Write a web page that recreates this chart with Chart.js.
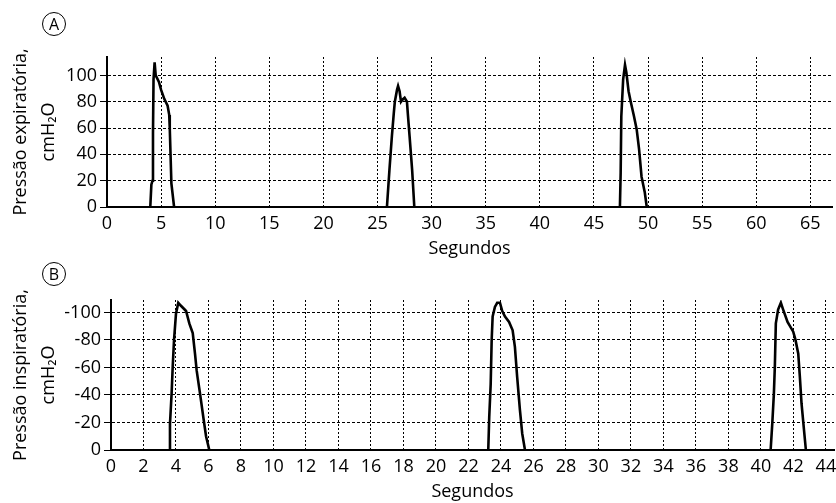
<!DOCTYPE html>
<html>
<head>
<meta charset="utf-8">
<script src="https://cdn.jsdelivr.net/npm/chart.js@4.4.1/dist/chart.umd.min.js"></script>
<style>
  body { margin: 0; background: #fff; width: 836px; height: 503px; overflow: hidden; position: relative; font-family: "Open Sans", sans-serif; }
  .panel { position: absolute; left: 0; width: 836px; }
  #boxA { top: 0; height: 262px; }
  #boxB { top: 250px; height: 253px; }
  .tag { position: absolute; width: 22px; height: 22px; border: 1.3px solid #000; border-radius: 50%;
         text-align: center; line-height: 22px; font-size: 16px; color: #000; }
</style>
</head>
<body>
<div class="panel" id="boxA"><canvas id="chartA"></canvas></div>
<div class="panel" id="boxB"><canvas id="chartB"></canvas></div>
<div class="tag" style="left:42px;top:12px">A</div>
<div class="tag" style="left:42px;top:262px">B</div>
<script>
// ── Data ───────────────────────────────────────────────────────────────────────
// Panel A: expiratory pressure (cmH2O) vs seconds, three efforts
const secA1 = [4.0, 4.1, 4.2, 4.25, 4.3, 4.4, 4.5, 4.8, 5.0, 5.3, 5.6, 5.75, 5.8, 5.95, 6.2];
const presA1 = [0, 17, 20, 56, 97, 110, 100, 95, 89, 82, 77, 70, 60, 18, 0];
const secA2 = [25.87, 26.1, 26.33, 26.5, 26.6, 26.8, 26.9, 27.04, 27.17, 27.35, 27.5, 27.72, 27.8, 27.96, 28.2, 28.4];
const presA2 = [0, 28, 54, 71, 80, 89, 92, 88, 80, 82, 83, 80, 71, 54, 28, 0];
const secA3 = [47.4, 47.47, 47.53, 47.7, 47.87, 48.0, 48.2, 48.4, 48.7, 48.95, 49.17, 49.4, 49.7, 49.88];
const presA3 = [0, 26, 69, 97, 108, 102, 88, 80, 69, 59, 44, 23, 11, 0];

// Panel B: inspiratory pressure (cmH2O, negative) vs seconds
const secB1 = [3.57, 3.63, 3.73, 3.8, 3.88, 4.0, 4.14, 4.29, 4.62, 4.82, 5.03, 5.17, 5.27, 5.48, 5.68, 5.85, 6.05];
const presB1 = [0, -19, -41, -61, -80, -99, -107, -105, -101, -92, -85, -70, -58, -41, -24, -10, 0];
const secB2 = [23.22, 23.28, 23.37, 23.43, 23.49, 23.63, 23.77, 23.94, 24.08, 24.25, 24.5, 24.72, 24.86, 25.0, 25.17, 25.31, 25.48];
const presB2 = [0, -24, -48, -80, -97, -104, -107, -107, -101, -97, -93, -87, -75, -53, -29, -12, 0];
const secB3 = [40.6, 40.7, 40.8, 40.86, 40.92, 41.06, 41.23, 41.37, 41.64, 41.99, 42.13, 42.3, 42.4, 42.5, 42.65, 42.77];
const presB3 = [0, -19, -41, -61, -92, -102, -107, -102, -93, -86, -80, -70, -53, -34, -15, 0];

const titleA = ["Pressão expiratória,", "cmH₂O"];
const titleB = ["Pressão inspiratória,", "cmH₂O"];
const xTitle = "Segundos";

// ── Helpers ───────────────────────────────────────────────────────────────────
const FONT = "'Open Sans', sans-serif";

function peak(xs, ys) {
  return {
    data: xs.map((x, i) => ({ x, y: ys[i] })),
    borderColor: "#000",
    borderWidth: 2.6,
    pointRadius: 0,
    tension: 0,
    fill: false,
  };
}

function makePanel(id, g) {
  return new Chart(document.getElementById(id), {
    type: "line",
    data: { datasets: g.peaks },
    options: {
      responsive: true,
      maintainAspectRatio: false,
      devicePixelRatio: 1,
      animation: false,
      layout: { padding: { top: g.top, right: 836 - g.right, left: 0, bottom: 0 } },
      plugins: { legend: { display: false }, tooltip: { enabled: false } },
      scales: {
        x: {
          type: "linear",
          min: 0, max: g.xMax,
          // border.dash dashes the grid lines; the axis line itself stays solid
          border: { display: true, color: "#000", width: 2, dash: [2, 2] },
          grid: { color: "#000", lineWidth: 1, drawTicks: false },
          ticks: { stepSize: g.xStep, autoSkip: false, includeBounds: false, maxRotation: 0,
                   color: "#000", padding: g.xPad, font: { family: FONT, size: 18 } },
          title: { display: true, text: xTitle, color: "#000",
                   font: { family: FONT, size: 18 }, padding: { top: 0, bottom: g.xTitlePad } },
          afterFit: s => { s.height = g.h - g.bottom; s.paddingLeft = 0; s.paddingRight = 0; },
        },
        y: {
          type: "linear",
          min: g.yMin, max: g.yMax, reverse: g.reverse,
          border: { display: true, color: "#000", width: 2, dash: [3, 2] },
          grid: { color: "#000", lineWidth: 1, tickLength: 7 },
          ticks: { stepSize: 20, includeBounds: false, color: "#000", padding: 3,
                   font: { family: FONT, size: 18 } },
          title: { display: true, text: g.yTitle, color: "#000",
                   font: { family: FONT, size: 18, lineHeight: 1.55 }, padding: { top: 7, bottom: 0 } },
          afterFit: s => { s.width = g.left; s.paddingTop = 0; s.paddingBottom = 0; },
        },
      },
    },
  });
}

// ── Panels ────────────────────────────────────────────────────────────────────
makePanel("chartA", {
  peaks: [peak(secA1, presA1), peak(secA2, presA2), peak(secA3, presA3)],
  h: 262, top: 57, bottom: 207, left: 107, right: 832,
  xMax: 67, xStep: 5, xPad: 6, xTitlePad: 2,
  yMin: 0, yMax: 114, reverse: false, yTitle: titleA,
});

makePanel("chartB", {
  peaks: [peak(secB1, presB1), peak(secB2, presB2), peak(secB3, presB3)],
  h: 253, top: 50, bottom: 200, left: 111, right: 834,
  xMax: 44.5, xStep: 2, xPad: 6, xTitlePad: 0,
  yMin: -109, yMax: 0, reverse: true, yTitle: titleB,
});
</script>
</body>
</html>
